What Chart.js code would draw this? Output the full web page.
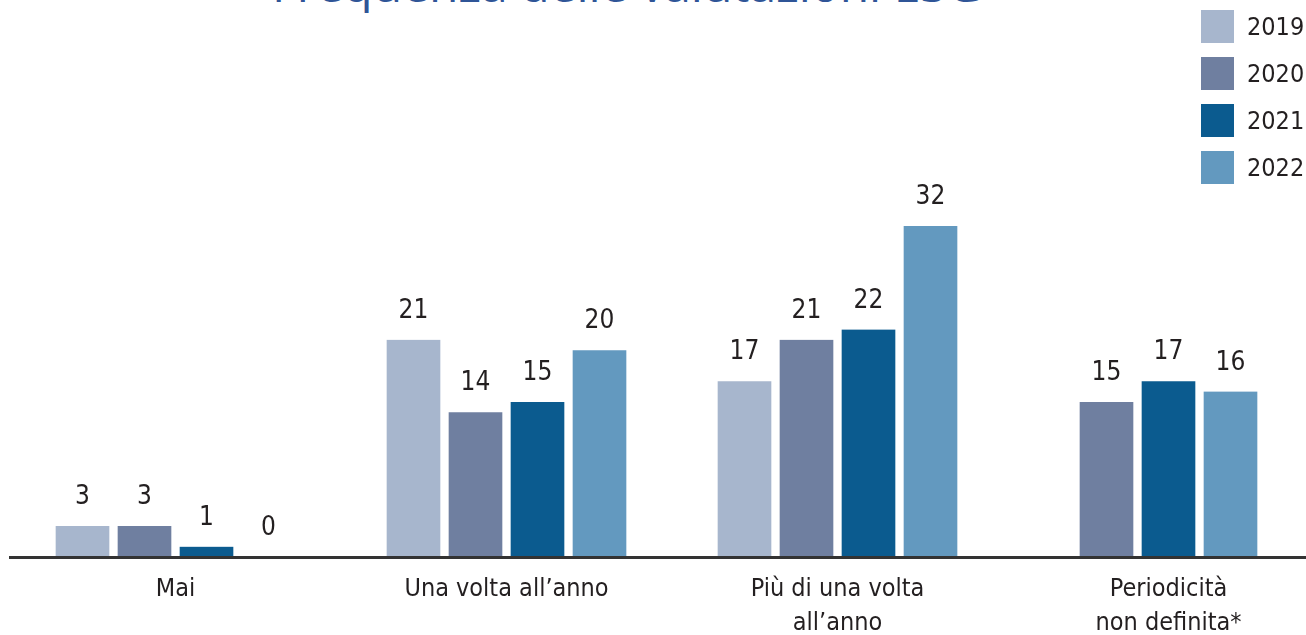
<!DOCTYPE html>
<html>
<head>
<meta charset="utf-8">
<script src="https://cdn.jsdelivr.net/npm/chart.js@4"></script>
<style>
  body { margin: 0; background: #fff; overflow: hidden; width: 1306px; height: 635px; position: relative; }
  #title { position: absolute; left: 272px; top: -40px; font: 48px "Open Sans", sans-serif; line-height: 48px; color: #2f5597; white-space: nowrap; }
  #chart { position: absolute; left: 0; top: 0; }
  .legend { position: absolute; left: 1201px; top: 10px; font: 25px "DejaVu Sans Condensed", sans-serif; color: #231f20; }
  .legend div { height: 33px; margin-bottom: 14px; display: flex; align-items: center; }
  .legend span { display: inline-block; width: 33px; height: 33px; margin-right: 13px; }
</style>
</head>
<body>
<div id="title">Frequenza delle valutazioni ESG</div>
<canvas id="chart" width="1340" height="635"></canvas>
<div class="legend" id="legend"></div>
<script>
var categories = ['Mai', 'Una volta all\u2019anno', ['Più di una volta', 'all\u2019anno'], ['Periodicità', 'non definita*']];
var years = ['2019', '2020', '2021', '2022'];
var colors = ['#a7b6cd', '#6f7fa0', '#0b5b8f', '#6399bf'];
var v2019 = [3, 21, 17, null];
var v2020 = [3, 14, 21, 15];
var v2021 = [1, 15, 22, 17];
var v2022 = [0, 20, 32, 16];
var series = [v2019, v2020, v2021, v2022];

var labelFont = '"DejaVu Sans Condensed", sans-serif';

// values above the bars
var valueLabels = {
  id: 'valueLabels',
  afterDatasetsDraw: function(chart) {
    var ctx = chart.ctx;
    ctx.save();
    ctx.font = '26px ' + labelFont;
    ctx.fillStyle = '#231f20';
    ctx.textAlign = 'center';
    ctx.textBaseline = 'alphabetic';
    chart.data.datasets.forEach(function(ds, i) {
      var meta = chart.getDatasetMeta(i);
      meta.data.forEach(function(bar, j) {
        if (ds.data[j] === null) return;
        ctx.fillText(ds.data[j], bar.x, bar.y - 22);
      });
    });
    ctx.restore();
  }
};

// fixed slot of 62px per bar, white sides give the gaps
var datasets = years.map(function(y, i) {
  return {
    label: y,
    data: series[i],
    backgroundColor: colors[i],
    borderColor: '#ffffff',
    borderWidth: { left: 4.5, right: 4.5, top: 0, bottom: 0 },
    borderSkipped: false,
    skipNull: true,
    barThickness: 62
  };
});

var leg = document.getElementById('legend');
years.forEach(function(y, i) {
  leg.innerHTML += '<div><span style="background:' + colors[i] + '"></span>' + y + '</div>';
});

var chart = new Chart(document.getElementById('chart').getContext('2d'), {
  type: 'bar',
  data: { labels: categories, datasets: datasets },
  options: {
    responsive: false,
    animation: false,
    devicePixelRatio: 1,
    layout: { padding: { left: 10, top: 40, right: 6, bottom: 0 } },
    plugins: { legend: { display: false }, tooltip: { enabled: false } },
    scales: {
      x: {
        grid: { display: false },
        border: { display: true, color: '#333', width: 3, z: 1 },
        ticks: { color: '#231f20', font: { size: 25, family: labelFont, lineHeight: 1.36 }, padding: 7, maxRotation: 0, autoSkip: false },
        afterFit: function(scale) { scale.height = 78; }
      },
      y: { display: false, min: 0, max: 50 }
    }
  },
  plugins: [valueLabels]
});
</script>
</body>
</html>
